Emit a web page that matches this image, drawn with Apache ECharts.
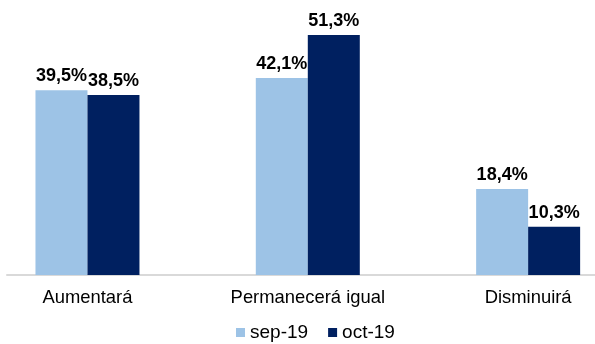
<!DOCTYPE html>
<html><head><meta charset="utf-8">
<script src="https://cdn.jsdelivr.net/npm/echarts@6/dist/echarts.min.js"></script>
<style>html,body{margin:0;padding:0;background:#fff}#c{width:595px;height:344px}</style>
</head><body><div id="c"></div>
<script>
const categories = ['Aumentará', 'Permanecerá igual', 'Disminuirá'];
const seriesNames = ['sep-19', 'oct-19'];
const sep19 = [39.5, 42.1, 18.4];
const oct19 = [38.5, 51.3, 10.3];

const chart = echarts.init(document.getElementById('c'), null, {renderer: 'canvas'});
const fmt = p => p.value.toFixed(1).replace('.', ',') + '%';
const labelStyle = {show: true, position: 'top', distance: 5, formatter: fmt,
  fontFamily: 'Liberation Sans, Arial, sans-serif', fontWeight: 'bold', fontSize: 18, color: '#000'};
chart.setOption({
  animation: false,
  grid: [
    {left: -22.7, width: 661, top: 0, bottom: 69, outerBoundsMode: 'none', containLabel: false},
    {left: 7, right: 0, top: 0, bottom: 69, outerBoundsMode: 'none', containLabel: false}
  ],
  legend: {
    data: seriesNames, left: 236, top: 323, padding: 0, itemWidth: 9, itemHeight: 9, itemGap: 20,
    icon: 'rect', textStyle: {fontFamily: 'Liberation Sans, Arial, sans-serif', fontSize: 19, color: '#000'}
  },
  xAxis: [
    {type: 'category', gridIndex: 0, data: categories, axisLine: {show: false}, axisTick: {show: false},
     axisLabel: {margin: 14, fontFamily: 'Liberation Sans, Arial, sans-serif', fontSize: 18.4, color: '#000', interval: 0}},
    {type: 'value', gridIndex: 1, min: 0, max: 1, axisLine: {show: true, lineStyle: {color: '#d9d9d9', width: 2}},
     axisTick: {show: false}, axisLabel: {show: false}, splitLine: {show: false}}
  ],
  yAxis: [
    {type: 'value', gridIndex: 0, min: 0, max: 58.8, show: false, splitLine: {show: false}},
    {type: 'value', gridIndex: 1, min: 0, max: 1, show: false, splitLine: {show: false}}
  ],
  series: [
    {name: seriesNames[0], type: 'bar', data: sep19, barWidth: 52, barGap: '0%',
     itemStyle: {color: '#9DC3E6'}, label: labelStyle},
    {name: seriesNames[1], type: 'bar', data: oct19, barWidth: 52, barGap: '0%',
     itemStyle: {color: '#002060'}, label: labelStyle}
  ]
});
</script></body></html>
